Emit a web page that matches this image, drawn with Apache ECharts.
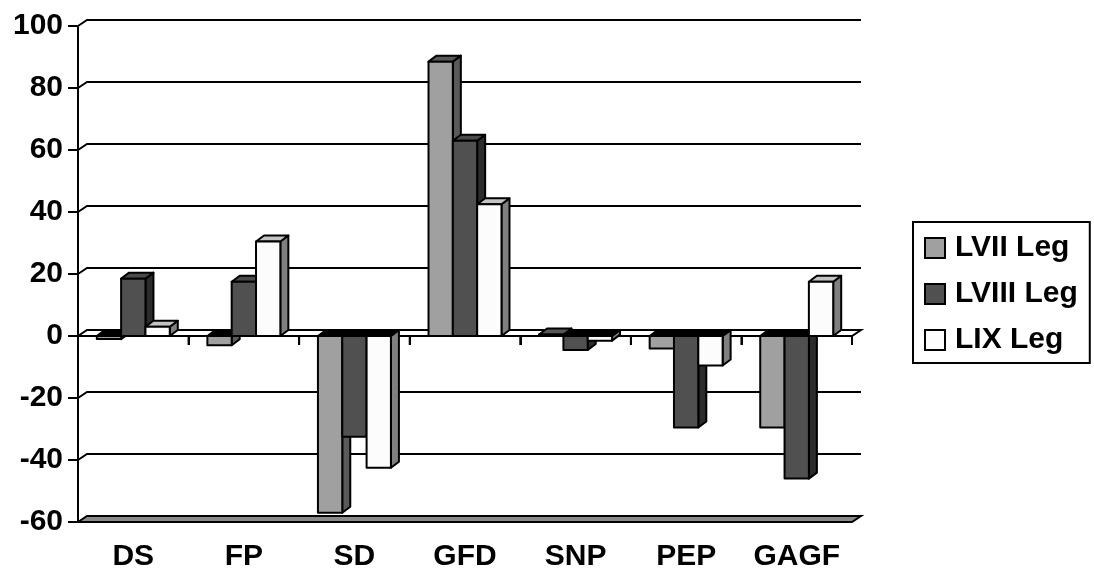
<!DOCTYPE html>
<html><head><meta charset="utf-8">
<script src="https://cdn.jsdelivr.net/npm/echarts@6/dist/echarts.min.js"></script>
<style>html,body{margin:0;padding:0;background:#fff}#c{width:1094px;height:574px}</style>
</head><body><div id="c"></div>
<script>
const categories = ['DS','FP','SD','GFD','SNP','PEP','GAGF'];
const seriesNames = ['LVII Leg','LVIII Leg','LIX Leg'];
const lvii  = [-1, -3, -57, 88.5, 0.5, -4, -29.5];
const lviii = [18.5, 17.5, -32.5, 63, -4.5, -29.5, -46];
const lix   = [3, 30.5, -42.5, 42.5, -1.5, -9.5, 17.5];
const yTicks = [-60,-40,-20,0,20,40,60,80,100];

const DX = 8, DY = -6, WX = 9, WY = -6;
const styles = [
  {front:'#a0a0a0', top:'#585858', side:'#5a5a5a'},
  {front:'#505050', top:'#4a4a4a', side:'#2c2c2c'},
  {front:'#fcfcfc', top:'#c4c4c4', side:'#808080'}
];
const FONT = 'Liberation Sans, Arial, sans-serif';

function barRenderer(s){
  return function(params, api){
    const cat = api.value(0), val = api.value(1);
    const band = api.size([1,0])[0];
    const c = api.coord([cat, 0]);
    const v = api.coord([cat, val]);
    const bw = band*0.22;
    const x0 = c[0] - 1.5*bw + s*bw;
    const yt = Math.min(c[1], v[1]), yb = Math.max(c[1], v[1]);
    const st = styles[s];
    const ln = {stroke:'#000', lineWidth:2, lineJoin:'round'};
    const topFill = val < 0 ? '#000' : st.top;
    return {type:'group', children:[
      {type:'polygon', shape:{points:[[x0+bw,yt],[x0+bw+DX,yt+DY],[x0+bw+DX,yb+DY],[x0+bw,yb]]}, style:Object.assign({fill:st.side}, ln)},
      {type:'polygon', shape:{points:[[x0,yt],[x0+DX,yt+DY],[x0+bw+DX,yt+DY],[x0+bw,yt]]}, style:Object.assign({fill:topFill}, ln)},
      {type:'rect', shape:{x:x0, y:yt, width:bw, height:yb-yt}, style:Object.assign({fill:st.front}, ln)}
    ]};
  };
}

function wallRenderer(params, api){
  const val = api.value(1);
  const cs = params.coordSys;
  const gx = cs.x, gw = cs.width;
  const y = api.coord([0, val])[1];
  const ln = {stroke:'#000', lineWidth:2};
  const children = [];
  if (val === yTicks[0] || val === 0) {
    children.push({type:'polygon', shape:{points:[[gx,y],[gx+WX,y+WY],[gx+gw+WX,y+WY],[gx+gw,y]]},
      style:Object.assign({fill: val === 0 ? '#fff' : '#8a8a8a'}, ln)});
    if (val === 0) {
      const band = gw / categories.length;
      for (let i = 0; i <= categories.length; i++) {
        const tx = gx + i*band;
        children.push({type:'line', shape:{x1:tx, y1:y, x2:tx, y2:y+9}, style:ln});
      }
    }
  } else {
    children.push({type:'polyline', shape:{points:[[gx,y],[gx+WX,y+WY],[gx+gw+WX,y+WY]]}, style:Object.assign({fill:null}, ln)});
  }
  return {type:'group', children};
}

const chart = echarts.init(document.getElementById('c'), null, {renderer:'canvas'});
const seriesData = [lvii, lviii, lix];
chart.setOption({
  animation:false,
  backgroundColor:'#fff',
  grid:{left:78, top:26, width:774, height:496, containLabel:false},
  xAxis:{type:'category', data:categories, boundaryGap:true,
    axisLine:{show:true, lineStyle:{color:'#000', width:2}},
    axisTick:{show:true, length:9, interval:0, lineStyle:{color:'#000', width:2}},
    axisLabel:{fontSize:30, fontWeight:'bold', color:'#000', fontFamily:FONT, margin:20, interval:0, hideOverlap:false},
    splitLine:{show:false}},
  yAxis:{type:'value', min:-60, max:100, interval:20,
    axisLine:{show:true, lineStyle:{color:'#000', width:2}},
    axisTick:{show:true, length:10, lineStyle:{color:'#000', width:2}},
    axisLabel:{fontSize:30, fontWeight:'bold', color:'#000', fontFamily:FONT, margin:15},
    splitLine:{show:false}},
  legend:{orient:'vertical', left:913, top:222, borderColor:'#000', borderWidth:2,
    padding:[11,12,8,11], itemWidth:20, itemHeight:20, itemGap:16,
    textStyle:{fontSize:30, fontWeight:'bold', color:'#000', fontFamily:FONT, padding:[0,0,0,5]},
    data: seriesNames.map((n,i)=>({name:n, icon:'rect', itemStyle:{color:styles[i].front, borderColor:'#000', borderWidth:2}}))},
  series:[
    {type:'custom', name:'walls', z:1, silent:true, renderItem:wallRenderer,
      data: yTicks.map(v=>[0,v]), encode:{x:0, y:1}}
  ].concat(seriesData.map((arr, s)=>({
    type:'custom', name:seriesNames[s], z:2+s, renderItem:barRenderer(s),
    itemStyle:{color:styles[s].front, borderColor:'#000', borderWidth:2},
    data: arr.map((v,i)=>[i,v]), encode:{x:0, y:1}
  })))
});
</script></body></html>
